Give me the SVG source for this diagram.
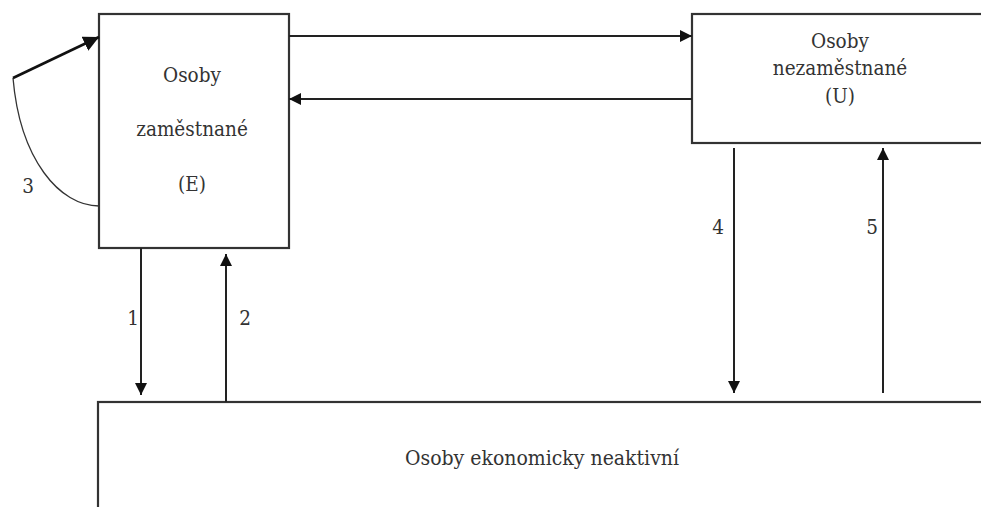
<svg xmlns="http://www.w3.org/2000/svg" width="981" height="507" viewBox="0 0 981 507">
<style>
.box{fill:#fff;stroke:#333;stroke-width:2.2}
.ln{fill:none;stroke:#222;stroke-width:2}
text{font-family:"DejaVu Serif Condensed","DejaVu Serif",serif;font-stretch:condensed;font-size:20.5px;fill:#333;text-anchor:middle}
</style>
<defs>
<marker id="ah" viewBox="0 0 10 10" refX="10" refY="5" markerWidth="6" markerHeight="6" markerUnits="strokeWidth" orient="auto">
<path d="M0,0 L10,5 L0,10 z" fill="#111"/>
</marker>
</defs>
<rect width="981" height="507" fill="#fff"/>
<g id="node-E">
<rect class="box" x="99" y="14" width="190" height="234"/>
<text x="192" y="82">Osoby</text>
<text x="192" y="136">zaměstnané</text>
<text x="192" y="191">(E)</text>
</g>
<g id="node-U">
<rect class="box" x="692" y="14" width="300" height="129"/>
<text x="840" y="48">Osoby</text>
<text x="840" y="75">nezaměstnané</text>
<text x="840" y="103">(U)</text>
</g>
<g id="node-N">
<rect class="box" x="98" y="402" width="900" height="120"/>
<text x="542" y="465" style="font-size:21px">Osoby ekonomicky neaktivní</text>
</g>
<g id="connectors">
<line class="ln" x1="289" y1="36" x2="692" y2="36" marker-end="url(#ah)"/>
<line class="ln" x1="692" y1="99" x2="289" y2="99" marker-end="url(#ah)"/>
<line class="ln" x1="141" y1="248" x2="141" y2="395" marker-end="url(#ah)"/>
<line class="ln" x1="226" y1="402" x2="226" y2="254" marker-end="url(#ah)"/>
<line class="ln" x1="734" y1="148" x2="734" y2="393" marker-end="url(#ah)"/>
<line class="ln" x1="883" y1="393" x2="883" y2="148" marker-end="url(#ah)"/>
<path d="M99,206 C60,206 20,160 13,78" fill="none" stroke="#333" stroke-width="1.3"/>
<line x1="13" y1="78" x2="99" y2="37" stroke="#111" stroke-width="2.6" marker-end="url(#ah)"/>
<text x="28" y="193">3</text>
<text x="133" y="325">1</text>
<text x="245" y="325">2</text>
<text x="718" y="234">4</text>
<text x="872" y="234">5</text>
</g>
</svg>
